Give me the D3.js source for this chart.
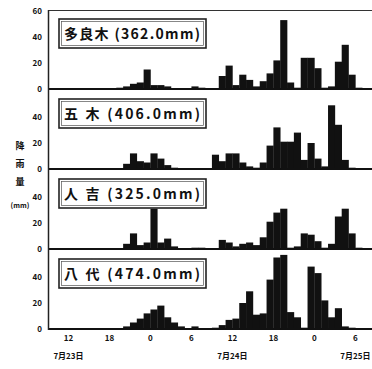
<!DOCTYPE html>
<html>
<head>
<meta charset="utf-8">
<script src="https://cdn.jsdelivr.net/npm/d3@7"></script>
<style>
  body { margin: 0; background: #fff; }
  svg text { font-family: "Noto Sans CJK JP", "DejaVu Sans", sans-serif; fill: #111; }
</style>
</head>
<body>
<svg id="chart" width="372" height="369"></svg>
<script>
// hourly rainfall (mm), one value per hour starting 7/23 09:00
const stations = ["多良木", "五 木", "人 吉", "八 代"];
const totals = ["362.0", "406.0", "325.0", "474.0"];

const taragi = [0,0,0,0,0,0,0,0,0,0, 1,2,4,5,15,3,3,2,0,0, 0,2,1,0,0,10,18,3,11,7, 2,6,12,22,53,5,1,24,24,16, 1,2,21,34,11,1,0,0];
const itsuki = [0,0,0,0,0,0,0,0,0,0, 0,4,12,6,5,12,8,3,1,0, 0,0,0,0,11,6,12,12,5,2, 1,5,18,32,21,21,28,7,20,8, 2,49,34,7,1,0,0,0];
const hitoyoshi = [0,0,0,0,0,0,0,0,0,0, 0,4,12,3,5,31,5,8,2,0, 0,1,1,0,0,7,5,2,4,5, 3,9,21,28,31,1,2,12,11,6, 1,4,25,31,12,1,0,0];
const yatsushiro = [0,0,0,0,0,0,0,0,0,0, 0,2,5,8,12,15,18,9,5,2, 0,2,0,0,1,3,7,8,20,29, 11,12,38,55,57,13,9,1,48,43, 22,9,16,2,1,0,0,0];
const series = [taragi, itsuki, hitoyoshi, yatsushiro];

const tickHours = [3, 9, 15, 21, 27, 33, 39, 45];
const tickLabels = ["12", "18", "0", "6", "12", "18", "0", "6"];
const dateHours = [3, 27, 45];
const dateLabels = ["7月23日", "7月24日", "7月25日"];
const yTicks = [0, 20, 40, 60];

const svg = d3.select("#chart");
const left = 48;
const x = d3.scaleLinear().domain([0, 48]).range([left, left + 48 * 6.83]);
const bw = x(1) - x(0);

series.forEach((vals, i) => {
  const base = 89 + 80 * i;
  const y = d3.scaleLinear().domain([0, 60]).range([base, base - 78]);
  const g = svg.append("g");

  g.selectAll("rect.bar")
    .data(vals)
    .enter()
    .append("rect")
    .attr("class", "bar")
    .attr("x", (d, h) => x(h))
    .attr("width", bw + 0.3)
    .attr("y", d => y(d))
    .attr("height", d => base - y(d))
    .attr("fill", "#111");

  // baseline
  g.append("line")
    .attr("x1", left).attr("x2", 372)
    .attr("y1", base).attr("y2", base)
    .attr("stroke", "#111").attr("stroke-width", 2);

  // y tick labels (top label omitted below the first panel)
  const ticks = i === 0 ? yTicks : yTicks.slice(0, 3);
  g.selectAll("text.yt")
    .data(ticks)
    .enter()
    .append("text")
    .attr("x", 42)
    .attr("y", d => y(d) + 3)
    .attr("text-anchor", "end")
    .style("font-size", "8px")
    .style("font-weight", "bold")
    .text(d => d);

  // station label box
  const by = base - 78 + 8;
  g.append("rect")
    .attr("x", 59).attr("y", by).attr("width", 147).attr("height", 29)
    .attr("fill", "#fff").attr("stroke", "#222").attr("stroke-width", 1.6);
  g.append("rect")
    .attr("x", 61.5).attr("y", by + 2.5).attr("width", 142).attr("height", 24)
    .attr("fill", "none").attr("stroke", "#555").attr("stroke-width", 0.7);
  g.append("text")
    .attr("x", 64)
    .attr("y", by + 20)
    .attr("textLength", 136)
    .attr("lengthAdjust", "spacing")
    .style("font-size", "14px")
    .style("font-weight", "bold")
    .text(stations[i] + " (" + totals[i] + "mm)");
});

// frame
svg.append("line")
  .attr("x1", left).attr("x2", 372).attr("y1", 10.5).attr("y2", 10.5)
  .attr("stroke", "#333").attr("stroke-width", 1.2);
svg.append("line")
  .attr("x1", left + 0.5).attr("x2", left + 0.5).attr("y1", 10).attr("y2", 330)
  .attr("stroke", "#222").attr("stroke-width", 1.5);

// x axis labels
svg.selectAll("text.xt")
  .data(tickHours)
  .enter()
  .append("text")
  .attr("x", d => x(d))
  .attr("y", 341)
  .attr("text-anchor", "middle")
  .style("font-size", "8px")
  .style("font-weight", "bold")
  .text((d, i) => tickLabels[i]);

svg.selectAll("text.dt")
  .data(dateHours)
  .enter()
  .append("text")
  .attr("x", d => x(d))
  .attr("y", 359)
  .attr("text-anchor", "middle")
  .style("font-size", "8px")
  .style("font-weight", "bold")
  .text((d, i) => dateLabels[i]);

// y axis title, written vertically
const title = ["降", "雨", "量"];
svg.selectAll("text.yl")
  .data(title)
  .enter()
  .append("text")
  .attr("x", 20)
  .attr("y", (d, i) => 149 + i * 18)
  .attr("text-anchor", "middle")
  .style("font-size", "9px")
  .style("font-weight", "bold")
  .text(d => d);
svg.append("text")
  .attr("x", 20).attr("y", 208)
  .attr("text-anchor", "middle")
  .style("font-size", "7px")
  .style("font-weight", "bold")
  .text("(mm)");
</script>
</body>
</html>
